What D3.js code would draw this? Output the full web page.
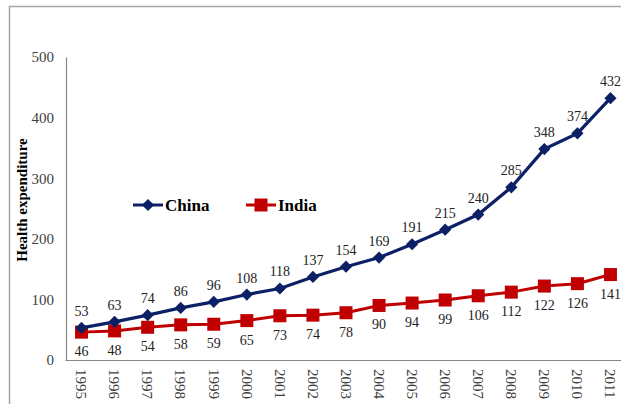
<!DOCTYPE html>
<html>
<head>
<meta charset="utf-8">
<script src="https://cdn.jsdelivr.net/npm/d3@7"></script>
<style>
  html, body { margin: 0; padding: 0; background: #fff; }
  svg { display: block; }
  svg text { font-family: "Liberation Serif", "Times New Roman", Times, "DejaVu Serif", serif; }
</style>
</head>
<body>
<svg id="chart" width="621" height="404"></svg>
<script>
// Health expenditure, China vs India, 1995–2011
const years = ["1995","1996","1997","1998","1999","2000","2001","2002","2003",
               "2004","2005","2006","2007","2008","2009","2010","2011"];
const china = [53, 63, 74, 86, 96, 108, 118, 137, 154, 169, 191, 215, 240, 285, 348, 374, 432];
const india = [46, 48, 54, 58, 59, 65, 73, 74, 78, 90, 94, 99, 106, 112, 122, 126, 141];
const yTicks = [0, 100, 200, 300, 400, 500];

const svg = d3.select("#chart");
const chinaColor = "#0c2066";
const indiaColor = "#c00000";

// outer frame
svg.append("rect")
  .attr("x", 9.5).attr("y", 6.5)
  .attr("width", 640).attr("height", 420)
  .attr("fill", "none").attr("stroke", "#a6a6a6").attr("stroke-width", 1.5);

const plotLeft = 66, plotRight = 627, plotTop = 57, plotBottom = 360;

const x = d3.scaleBand().domain(years).range([plotLeft - 1, plotRight]);
const cx = d => x(d) + x.bandwidth() / 2;
const y = d3.scaleLinear().domain([0, 500]).range([plotBottom, plotTop]);

// y axis
const yAxis = svg.append("g")
  .attr("transform", `translate(${plotLeft},0)`)
  .call(d3.axisLeft(y).tickValues(yTicks).tickSize(0).tickPadding(12));
yAxis.attr("font-family", null);
yAxis.select(".domain").attr("stroke", "#868686").attr("stroke-width", 1.2);
yAxis.selectAll("text")
  .attr("font-size", 15).attr("fill", "#404040");

// x axis
const xAxis = svg.append("g")
  .attr("transform", `translate(0,${plotBottom})`)
  .call(d3.axisBottom(x).tickSize(0).tickPadding(0));
xAxis.attr("font-family", null);
xAxis.select(".domain").attr("stroke", "#868686").attr("stroke-width", 1.2);
xAxis.selectAll("text")
  .attr("font-size", 15).attr("fill", "#404040")
  .attr("text-anchor", "start")
  .attr("y", 0)
  .attr("dy", "0.35em")
  .attr("transform", "translate(0,9) rotate(90)");

// axis title
svg.append("text")
  .attr("transform", "translate(27,200) rotate(-90)")
  .attr("text-anchor", "middle")
  .attr("font-size", 15).attr("font-weight", "bold")
  .attr("fill", "#000")
  .text("Health expenditure");

const line = d3.line().x((d, i) => cx(years[i])).y(d => y(d));

// India series
svg.append("path").datum(india)
  .attr("d", line).attr("fill", "none")
  .attr("stroke", indiaColor).attr("stroke-width", 3);
svg.selectAll(".india-pt").data(india).enter().append("rect")
  .attr("class", "india-pt")
  .attr("x", (d, i) => cx(years[i]) - 6.5).attr("y", d => y(d) - 6.5)
  .attr("width", 13).attr("height", 13).attr("fill", indiaColor);
svg.selectAll(".india-lbl").data(india).enter().append("text")
  .attr("class", "india-lbl")
  .attr("x", (d, i) => cx(years[i])).attr("y", d => y(d) + 24)
  .attr("text-anchor", "middle")
  .attr("font-size", 14).attr("fill", "#222")
  .text(d => d);

// China series
svg.append("path").datum(china)
  .attr("d", line).attr("fill", "none")
  .attr("stroke", chinaColor).attr("stroke-width", 3.2);
const diamond = d3.symbol().type(d3.symbolDiamond2).size(95);
svg.selectAll(".china-pt").data(china).enter().append("path")
  .attr("class", "china-pt")
  .attr("d", diamond)
  .attr("transform", (d, i) => `translate(${cx(years[i])},${y(d)})`)
  .attr("fill", chinaColor);
svg.selectAll(".china-lbl").data(china).enter().append("text")
  .attr("class", "china-lbl")
  .attr("x", (d, i) => cx(years[i])).attr("y", d => y(d) - 12)
  .attr("text-anchor", "middle")
  .attr("font-size", 14).attr("fill", "#222")
  .text(d => d);

// legend
const legend = [
  { name: "China", color: chinaColor, x: 133, shape: "diamond" },
  { name: "India", color: indiaColor, x: 246, shape: "square" }
];
const ly = 205;
legend.forEach(l => {
  svg.append("line")
    .attr("x1", l.x).attr("x2", l.x + 30).attr("y1", ly).attr("y2", ly)
    .attr("stroke", l.color).attr("stroke-width", 3);
  if (l.shape === "diamond") {
    svg.append("path").attr("d", diamond)
      .attr("transform", `translate(${l.x + 15},${ly})`).attr("fill", l.color);
  } else {
    svg.append("rect").attr("x", l.x + 8.5).attr("y", ly - 6.5)
      .attr("width", 13).attr("height", 13).attr("fill", l.color);
  }
  svg.append("text")
    .attr("x", l.x + 32).attr("y", ly).attr("dy", "0.35em")
    .attr("font-size", 17).attr("font-weight", "bold")
    .attr("fill", "#000")
    .text(l.name);
});
</script>
</body>
</html>
